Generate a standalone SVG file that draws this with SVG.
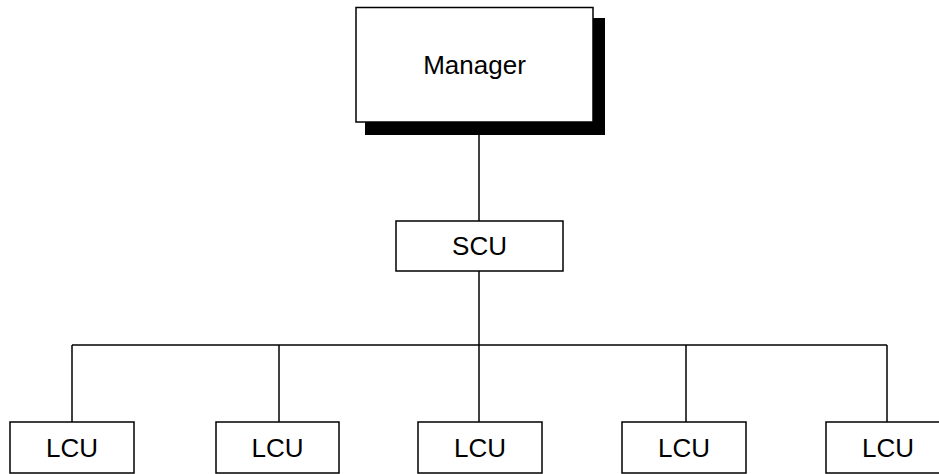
<svg xmlns="http://www.w3.org/2000/svg" width="939" height="474" viewBox="0 0 939 474">
  <style>
    .box { fill: #ffffff; stroke: #000000; stroke-width: 1.5; }
    .shadow { fill: #000000; stroke: none; }
    .wire { fill: none; stroke: #000000; stroke-width: 1.5; }
    .label { font-family: "Liberation Sans", Arial, sans-serif; font-size: 26px; fill: #000000; text-anchor: middle; }
  </style>
  <rect width="939" height="474" fill="#ffffff"/>

  <!-- connectors -->
  <g id="connectors">
    <line class="wire" x1="479" y1="122" x2="479" y2="221"/>
    <line class="wire" x1="479" y1="271" x2="479" y2="345"/>
    <line class="wire" x1="72" y1="345" x2="887" y2="345"/>
    <line class="wire" x1="72" y1="345" x2="72" y2="422"/>
    <line class="wire" x1="279" y1="345" x2="279" y2="422"/>
    <line class="wire" x1="479" y1="345" x2="479" y2="422"/>
    <line class="wire" x1="686" y1="345" x2="686" y2="422"/>
    <line class="wire" x1="887" y1="345" x2="887" y2="422"/>
  </g>

  <!-- manager with drop shadow -->
  <g id="manager">
    <rect class="shadow" x="365" y="18" width="240" height="117"/>
    <rect class="box" x="356" y="7.5" width="237" height="114.5"/>
    <text class="label" x="474.5" y="74">Manager</text>
  </g>

  <g id="scu">
    <rect class="box" x="396" y="221" width="167" height="50"/>
    <text class="label" x="479.5" y="255">SCU</text>
  </g>

  <g id="lcu1">
    <rect class="box" x="10" y="422" width="124" height="51"/>
    <text class="label" x="72" y="457">LCU</text>
  </g>
  <g id="lcu2">
    <rect class="box" x="216" y="422" width="123" height="51"/>
    <text class="label" x="277.5" y="457">LCU</text>
  </g>
  <g id="lcu3">
    <rect class="box" x="418" y="422" width="124" height="51"/>
    <text class="label" x="480" y="457">LCU</text>
  </g>
  <g id="lcu4">
    <rect class="box" x="622" y="422" width="124" height="51"/>
    <text class="label" x="684" y="457">LCU</text>
  </g>
  <g id="lcu5">
    <rect class="box" x="826" y="422" width="124" height="51"/>
    <text class="label" x="888" y="457">LCU</text>
  </g>
</svg>
